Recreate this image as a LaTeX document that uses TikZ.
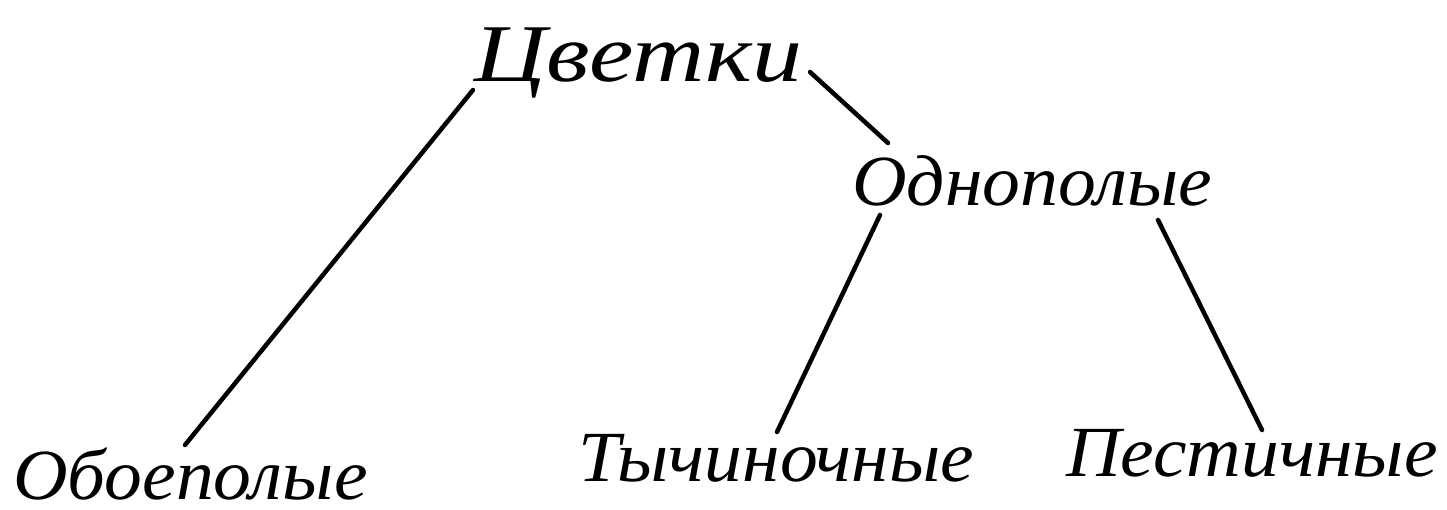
\documentclass[tikz,border=0pt]{standalone}
\usepackage{fontspec}
\setmainfont{Liberation Serif}
\newcommand{\lblw}[1]{\scalebox{1.05}[1]{#1}}
\newcommand{\rootw}[1]{\scalebox{1.22}[1]{#1}}
\begin{document}
\begin{tikzpicture}[x=1pt,y=-1pt,
  lbl/.style={inner sep=0pt,anchor=base west,font=\itshape\fontsize{72}{72}\selectfont},
  conn/.style={line width=4.5pt,line cap=round}]
\useasboundingbox[fill=white] (0,0) rectangle (1447,510);
\node[lbl,font=\itshape\fontsize{82}{82}\selectfont] (root) at (474,82) {\rootw{Цветки}};
\node[lbl] (uni) at (852,206) {\lblw{Однополые}};
\node[lbl] (bi) at (13,499) {\lblw{Обоеполые}};
\node[lbl] (st) at (578,481) {\lblw{Тычиночные}};
\node[lbl] (pi) at (1066,476) {\lblw{Пестичные}};
\coordinate (r1) at (473,90);
\coordinate (b1) at (185,445);
\coordinate (r2) at (810,72);
\coordinate (u1) at (888,143);
\coordinate (u2) at (880,215);
\coordinate (s1) at (777,432);
\coordinate (u3) at (1158,220);
\coordinate (p1) at (1262,430);
\draw[conn] (r1) -- (b1);
\draw[conn] (r2) -- (u1);
\draw[conn] (u2) -- (s1);
\draw[conn] (u3) -- (p1);
\end{tikzpicture}
\end{document}
